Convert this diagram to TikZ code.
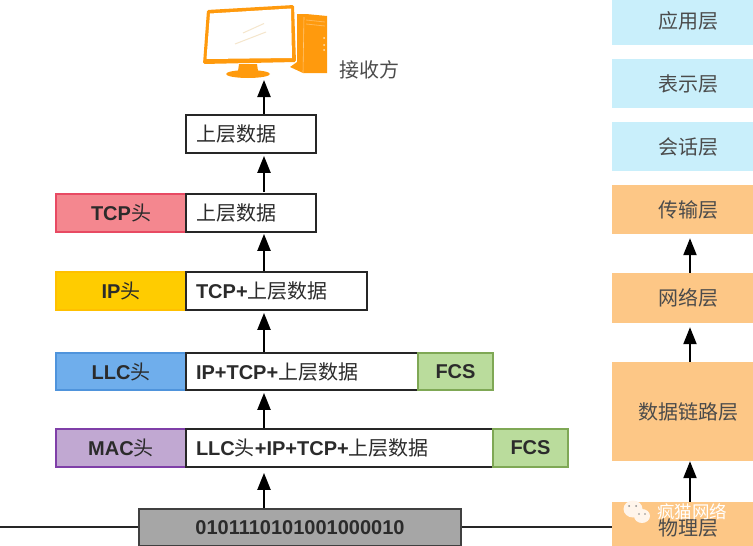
\documentclass[tikz,border=0pt]{standalone}
\usepackage{fontspec}
\setmainfont{Liberation Sans}
\newfontfamily\cjk{Noto Sans CJK SC}
\usetikzlibrary{arrows.meta}
\definecolor{tcpfill}{HTML}{F4878F}\definecolor{tcpline}{HTML}{E84A63}
\definecolor{ipfill}{HTML}{FFCC00}\definecolor{ipline}{HTML}{FFC000}
\definecolor{llcfill}{HTML}{6FAEEC}\definecolor{llcline}{HTML}{4F94DC}
\definecolor{macfill}{HTML}{C1A8D2}\definecolor{macline}{HTML}{7F3FA8}
\definecolor{fcsfill}{HTML}{BADC9C}\definecolor{fcsline}{HTML}{7FA855}
\definecolor{bitfill}{HTML}{A6A6A6}
\definecolor{upper}{HTML}{C9EFFB}\definecolor{lower}{HTML}{FDC786}
\definecolor{txt}{HTML}{2B2B2B}\definecolor{pcorange}{HTML}{FF9A0D}
\definecolor{glare}{HTML}{F5E6CC}
\newcommand{\boxat}[7][]{\node[#1,minimum width=#4-#3,minimum height=#6-#5] (#2) at ({(#3+#4)/2},{(#5+#6)/2}) {#7};}
\tikzset{
  x=1pt,y=-1pt,
  basebox/.style={draw,line width=1.8pt,inner sep=0pt,text=txt,font=\fontsize{20}{22}\selectfont\bfseries},
  databox/.style={basebox,draw=black!85,fill=white,align=left,text width=#1},
  headbox/.style 2 args={basebox,fill=#1,draw=#2},
  fcsbox/.style={basebox,fill=fcsfill,draw=fcsline},
  layerbox/.style={fill=#1,inner sep=0pt,text=txt!85!white,font=\fontsize{20}{22}\selectfont\cjk,execute at begin node=\hspace*{11pt}},
  flow/.style={draw=black,line width=2.2pt,-{Triangle[length=17pt,width=13pt]}},
  wire/.style={draw=black!85,line width=1.4pt}
}
\begin{document}
\begin{tikzpicture}
\useasboundingbox (0,0) rectangle (753,546);
% wires
\coordinate (wl) at (0,527);
\boxat[basebox,fill=bitfill,draw=black!75]{bits}{139}{461}{509}{546}{0101110101001000010}
% right column
\boxat[layerbox=upper]{app}{612}{753}{0}{45}{\raisebox{2pt}[\height][\depth]{应用层}}
\boxat[layerbox=upper]{pres}{612}{753}{59}{108}{表示层}
\boxat[layerbox=upper]{sess}{612}{753}{122}{171}{会话层}
\boxat[layerbox=lower]{trans}{612}{753}{185}{234}{传输层}
\boxat[layerbox=lower]{net}{612}{753}{273}{323}{网络层}
\boxat[layerbox=lower]{link}{612}{753}{362}{461}{数据链路层}
\boxat[layerbox=lower]{phys}{612}{753}{502}{546}{\raisebox{-4pt}[\height][\depth]{物理层}}
\draw[wire] (wl) -- (wl -| bits.west);
\draw[wire] (wl -| bits.east) -- (wl -| phys.west);
% left stack
\boxat[databox=110pt]{d1}{186}{316}{115}{153}{{\cjk\mdseries 上层数据}}
\boxat[headbox={tcpfill}{tcpline}]{tcp}{56}{186}{194}{232}{TCP{\cjk\mdseries 头}}
\boxat[databox=110pt]{d2}{186}{316}{194}{232}{{\cjk\mdseries 上层数据}}
\boxat[headbox={ipfill}{ipline}]{ip}{56}{186}{272}{310}{IP{\cjk\mdseries 头}}
\boxat[databox=161pt]{d3}{186}{367}{272}{310}{TCP+{\cjk\mdseries 上层数据}}
\boxat[headbox={llcfill}{llcline}]{llc}{56}{186}{353}{390}{LLC{\cjk\mdseries 头}}
\boxat[databox=212pt]{d4}{186}{418}{353}{390}{IP+TCP+{\cjk\mdseries 上层数据}}
\boxat[fcsbox]{f4}{418}{493}{353}{390}{FCS}
\boxat[headbox={macfill}{macline}]{mac}{56}{186}{429}{467}{MAC{\cjk\mdseries 头}}
\boxat[databox=287pt]{d5}{186}{493}{429}{467}{LLC{\cjk\mdseries 头}+IP+TCP+{\cjk\mdseries 上层数据}}
\boxat[fcsbox]{f5}{493}{568}{429}{467}{FCS}
% computer
\fill[pcorange,rounded corners=1.5pt] (207,10) -- (294,5) -- (296,62) -- (203,64) -- cycle;
\fill[white] (210,13.5) -- (291,8.5) -- (292,58) -- (206.5,59) -- cycle;
\draw[glare,line width=1pt] (243,33) -- (264,23.5);
\draw[glare,line width=1pt] (235,44) -- (266,32);
\fill[pcorange] (239,64) -- (257,64) -- (258,71) -- (238,71) -- cycle;
\fill[pcorange] (248,74) ellipse [x radius=22,y radius=4];
\fill[pcorange] (297,14) -- (306,14) -- (327,16) -- (327,73) -- (303,73) -- (290,67) -- (297,62) -- cycle;
\draw[white!45!pcorange,line width=.6pt] (303,73) -- (304,17);
\draw[white!30!pcorange,line width=.8pt] (306,20) -- (325,22) (306,24) -- (325,26);
\fill[white!70!pcorange] (324,38) circle (1) (324,45) circle (1) (324,50) circle (1);
\coordinate (pcbase) at (264,80);
\node[inner sep=0pt,text=txt!85!white,font=\fontsize{20}{22}\selectfont\cjk] (rx) at (369,70) {接收方};
% arrows, left
\coordinate (ax) at (264,0);
\draw[flow] (d1.north -| ax) -- (pcbase);
\draw[flow] ([yshift=.9pt]d2.north -| ax) -- ([yshift=-2pt]d1.south -| ax);
\draw[flow] (d3.north -| ax) -- ([yshift=-1pt]d2.south -| ax);
\draw[flow] (d4.north -| ax) -- ([yshift=-2pt]d3.south -| ax);
\draw[flow] (d5.north -| ax) -- ([yshift=-2pt]d4.south -| ax);
\draw[flow] (bits.north -| ax) -- ([yshift=-5pt]d5.south -| ax);
% arrows, right
\coordinate (rx2) at (690,0);
\draw[flow] (net.north -| rx2) -- ([yshift=-4pt]trans.south -| rx2);
\draw[flow] (link.north -| rx2) -- ([yshift=-4pt]net.south -| rx2);
\draw[flow] (phys.north -| rx2) -- (link.south -| rx2);
% watermark
\fill[white!92!orange] (633,509) ellipse [x radius=9.5,y radius=8.5];
\fill[white!92!orange] (642,516) ellipse [x radius=8,y radius=7];
\fill[black!45] (629,506) circle (1) (636,506) circle (1) (639,514) circle (.8) (645,514) circle (.8);
\node[inner sep=0pt,text=white,font=\fontsize{17.5}{20}\selectfont\cjk] (wm) at (692,512) {疯猫网络};
\end{tikzpicture}
\end{document}
